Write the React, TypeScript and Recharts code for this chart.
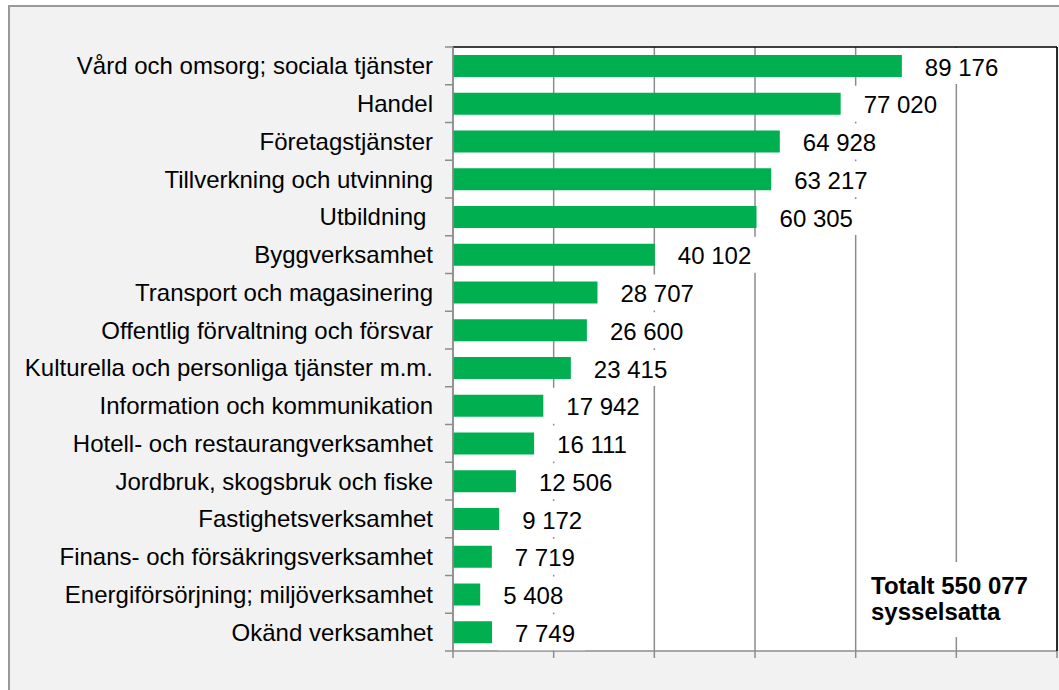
import React from 'react';
import { BarChart, Bar, XAxis, YAxis, CartesianGrid, LabelList } from 'recharts';

const categories = [
  'Vård och omsorg; sociala tjänster',
  'Handel',
  'Företagstjänster',
  'Tillverkning och utvinning',
  'Utbildning ',
  'Byggverksamhet',
  'Transport och magasinering',
  'Offentlig förvaltning och försvar',
  'Kulturella och personliga tjänster m.m.',
  'Information och kommunikation',
  'Hotell- och restaurangverksamhet',
  'Jordbruk, skogsbruk och fiske',
  'Fastighetsverksamhet',
  'Finans- och försäkringsverksamhet',
  'Energiförsörjning; miljöverksamhet',
  'Okänd verksamhet',
];

const values = [89176, 77020, 64928, 63217, 60305, 40102, 28707, 26600, 23415, 17942, 16111, 12506, 9172, 7719, 5408, 7749];

const xTicks = [0, 20000, 40000, 60000, 80000, 100000, 120000];

const totalLines = ['Totalt 550 077', 'sysselsatta'];

const data = categories.map((name, i) => ({ name, value: values[i] }));

const FONT = '"Liberation Sans", Arial, sans-serif';
const GRID = '#8c8c8c';
const W = 1059;
const H = 690;
const PLOT_TOP = 47;
const PLOT_BOTTOM = 651;
const STEP = (PLOT_BOTTOM - PLOT_TOP) / categories.length;

const fmt = (v: number) => String(v).replace(/\B(?=(\d{3})+(?!\d))/g, ' ');

const EmptyTick = () => <g />;

const CategoryTick = (props: any) => {
  const { x, y, payload, index } = props;
  const axisX = Number(x) + 20;
  const yy = Number(y);
  return (
    <g>
      <text
        x={x}
        y={yy}
        dy={8.5}
        textAnchor="end"
        fontFamily={FONT}
        fontSize={24}
        fill="#000"
        xmlSpace="preserve"
        style={{ whiteSpace: 'pre' }}
      >
        {payload.value}
      </text>
      <path d={`M${axisX - 8},${yy - STEP / 2}H${axisX}`} stroke={GRID} strokeWidth={1.5} fill="none" />
      {index === categories.length - 1 && (
        <path d={`M${axisX - 8},${yy + STEP / 2}H${axisX}`} stroke={GRID} strokeWidth={1.5} fill="none" />
      )}
    </g>
  );
};

const ValueLabel = (props: any) => {
  const { x, y, width, height, value } = props;
  const end = Number(x) + Number(width);
  const cy = Number(y) + Number(height) / 2;
  const txt = fmt(Number(value));
  const tw = [...txt].reduce((s, c) => s + (c === ' ' ? 0.278 : 0.556), 0) * 24;
  return (
    <g>
      <rect x={end + 6} y={cy - 18} width={tw + 27} height={36} fill="#fff" />
      <text x={end + 23} y={cy + 9.5} fontFamily={FONT} fontSize={24} fill="#000">
        {txt}
      </text>
    </g>
  );
};

export default function App() {
  return (
    <div style={{ position: 'absolute', left: 0, top: 0, width: W, height: H, overflow: 'hidden' }}>
      <div
        style={{
          position: 'absolute',
          left: 8,
          top: 5,
          width: W - 8,
          height: H - 5,
          background: '#f2f2f2',
          borderLeft: `2px solid #999`,
          borderTop: `2px solid #999`,
          boxSizing: 'border-box',
        }}
      />
      <div style={{ position: 'absolute', left: 0, top: 0 }}>
        <BarChart
          width={W}
          height={H}
          data={data}
          layout="vertical"
          margin={{ top: PLOT_TOP - 1, right: 1, bottom: H - PLOT_BOTTOM - 10, left: 0 }}
        >
          <CartesianGrid horizontal={false} stroke={GRID} strokeWidth={1.5} fill="#fff" />
          <XAxis
            type="number"
            domain={[0, 120000]}
            ticks={xTicks}
            interval={0}
            tick={<EmptyTick />}
            tickLine={{ stroke: GRID, strokeWidth: 1.5 }}
            tickSize={7}
            axisLine={{ stroke: GRID, strokeWidth: 1.5 }}
            height={10}
          />
          <XAxis
            xAxisId="top"
            orientation="top"
            type="number"
            domain={[0, 120000]}
            ticks={xTicks}
            tick={false}
            tickLine={false}
            axisLine={{ stroke: '#000', strokeWidth: 1.5 }}
            height={1}
          />
          <YAxis
            type="category"
            dataKey="name"
            width={453}
            interval={0}
            tick={<CategoryTick />}
            tickLine={false}
            tickSize={8}
            tickMargin={12}
            axisLine={{ stroke: GRID, strokeWidth: 1.5 }}
          />
          <YAxis
            yAxisId="right"
            orientation="right"
            type="category"
            dataKey="name"
            width={1}
            interval={0}
            tick={false}
            tickLine={false}
            axisLine={{ stroke: '#000', strokeWidth: 1.5 }}
          />
          <Bar dataKey="value" fill="#00AF50" barSize={22} isAnimationActive={false}>
            <LabelList dataKey="value" content={<ValueLabel />} />
          </Bar>
        </BarChart>
      </div>
      <div
        style={{
          position: 'absolute',
          left: 860,
          top: 562,
          width: 185,
          height: 75,
          background: '#fff',
          boxSizing: 'border-box',
          paddingLeft: 11,
          paddingTop: 11,
          fontFamily: FONT,
          fontWeight: 'bold',
          fontSize: 24,
          lineHeight: '26px',
          color: '#000',
        }}
      >
        {totalLines.map((l) => (
          <div key={l}>{l}</div>
        ))}
      </div>
    </div>
  );
}
